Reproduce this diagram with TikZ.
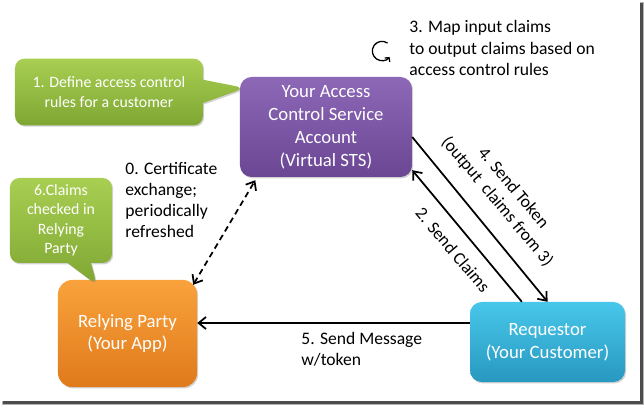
\documentclass[tikz,border=0pt]{standalone}
\usepackage{fontspec}
\setmainfont{Carlito}
\usepackage{xcolor}
\usetikzlibrary{arrows.meta,positioning,calc,shapes.callouts,shadows}

\definecolor{notetop}{HTML}{A8CF52}
\definecolor{notebot}{HTML}{7FA632}
\definecolor{acstop}{HTML}{8C68B7}
\definecolor{acsbot}{HTML}{6A4693}
\definecolor{rptop}{HTML}{F9A23C}
\definecolor{rpbot}{HTML}{E07A1B}
\definecolor{reqtop}{HTML}{48C7EB}
\definecolor{reqbot}{HTML}{2898BF}

\begin{document}
\begin{tikzpicture}[x=0.03cm, y=-0.03cm,
  box/.style={rounded corners=10pt, text=white, align=center, inner sep=2pt,
    font=\fontsize{16}{19.6}\selectfont,
    drop shadow={shadow xshift=1pt, shadow yshift=-1.2pt, opacity=0.35}},
  note/.style={rectangle callout, rounded corners=8pt, text=white, align=center,
    font=\fontsize{13.5}{16.6}\selectfont, top color=notetop, bottom color=notebot,
    callout pointer width=0.7cm,
    drop shadow={shadow xshift=1pt, shadow yshift=-1.2pt, opacity=0.35}},
  lbl/.style={font=\fontsize{15}{18}\selectfont, align=left, inner sep=1pt},
  arrow/.style={-{Straight Barb[length=2.2mm,width=3.6mm]}, line width=1.5pt}]

% page frame with its shadow
\useasboundingbox (0,0) rectangle (644,405);
\fill[black!30] (2,2) rectangle (644,405);
\fill[black!70] (3,3) rectangle (643,404);
\fill[white] (0,0) rectangle (640,401);

% main parties
\node[box, minimum width=5.16cm, minimum height=3cm, top color=acstop, bottom color=acsbot] (acs) at (326,127) {Your Access\\Control Service\\Account\\(Virtual STS)};
\node[box, rounded corners=12pt, minimum width=4.17cm, minimum height=3.21cm, top color=rptop, bottom color=rpbot] (rp) at (127.5,333.5) {Relying Party\\(Your App)};
\node[box, minimum width=4.65cm, minimum height=2.4cm, top color=reqtop, bottom color=reqbot] (req) at (547.5,342) {Requestor\\(Your Customer)};

% callouts
\coordinate (tip1) at (245,88);
\coordinate (tip6) at (97,285);
\node[note, callout absolute pointer={(tip1)}, minimum width=5.64cm, minimum height=2cm] (rules) at (109,92) {1. Define access control\\rules for a customer};
\node[note, callout absolute pointer={(tip6)}, minimum width=3.06cm, minimum height=2.55cm] (check) at (61,220.5) {6.Claims\\checked in\\Relying\\Party};

% labels
\node[lbl, anchor=west] (cert) at (124,200) {0. Certificate\\exchange;\\periodically\\refreshed};
\node[lbl, anchor=west] (map) at (408,48) {3. Map input claims\\to output claims based on\\access control rules};
\node[lbl, anchor=west] (msg) at (300,349) {5. Send Message\\w/token};
\node[lbl, align=center, rotate=-50] (tok) at (505,195) {4. Send Token\\(output~ claims from 3)};
\node[lbl, rotate=-50] (clm) at (453,250) {2. Send Claims};

% mapping cycle
\coordinate (cyc) at (382,51);
\begin{scope}[shift={(cyc)}, x=1cm, y=1cm]
  \draw[line width=1.1pt, -{Straight Barb[length=0.9mm,width=1.9mm]}] (55:0.29) arc[start angle=55, end angle=322, radius=0.29];
\end{scope}

% flows
\draw[arrow] ($(acs.north east)!0.6!(acs.south east)$) -- (req.north);
\draw[arrow] ($(req.north west)!0.335!(req.north east)$) -- ($(acs.north east)!0.93!(acs.south east)$);
\draw[arrow] (req.west |- 0,323) -- (rp.east |- 0,323);
\draw[arrow, {Straight Barb[length=2.2mm,width=3.6mm]}-{Straight Barb[length=2.2mm,width=3.6mm]}, dash pattern=on 5pt off 3.5pt]
  ($(rp.north east)+(-4,5)$) -- ($(acs.south west)!0.09!(acs.south east)+(0,3)$);
\end{tikzpicture}
\end{document}
